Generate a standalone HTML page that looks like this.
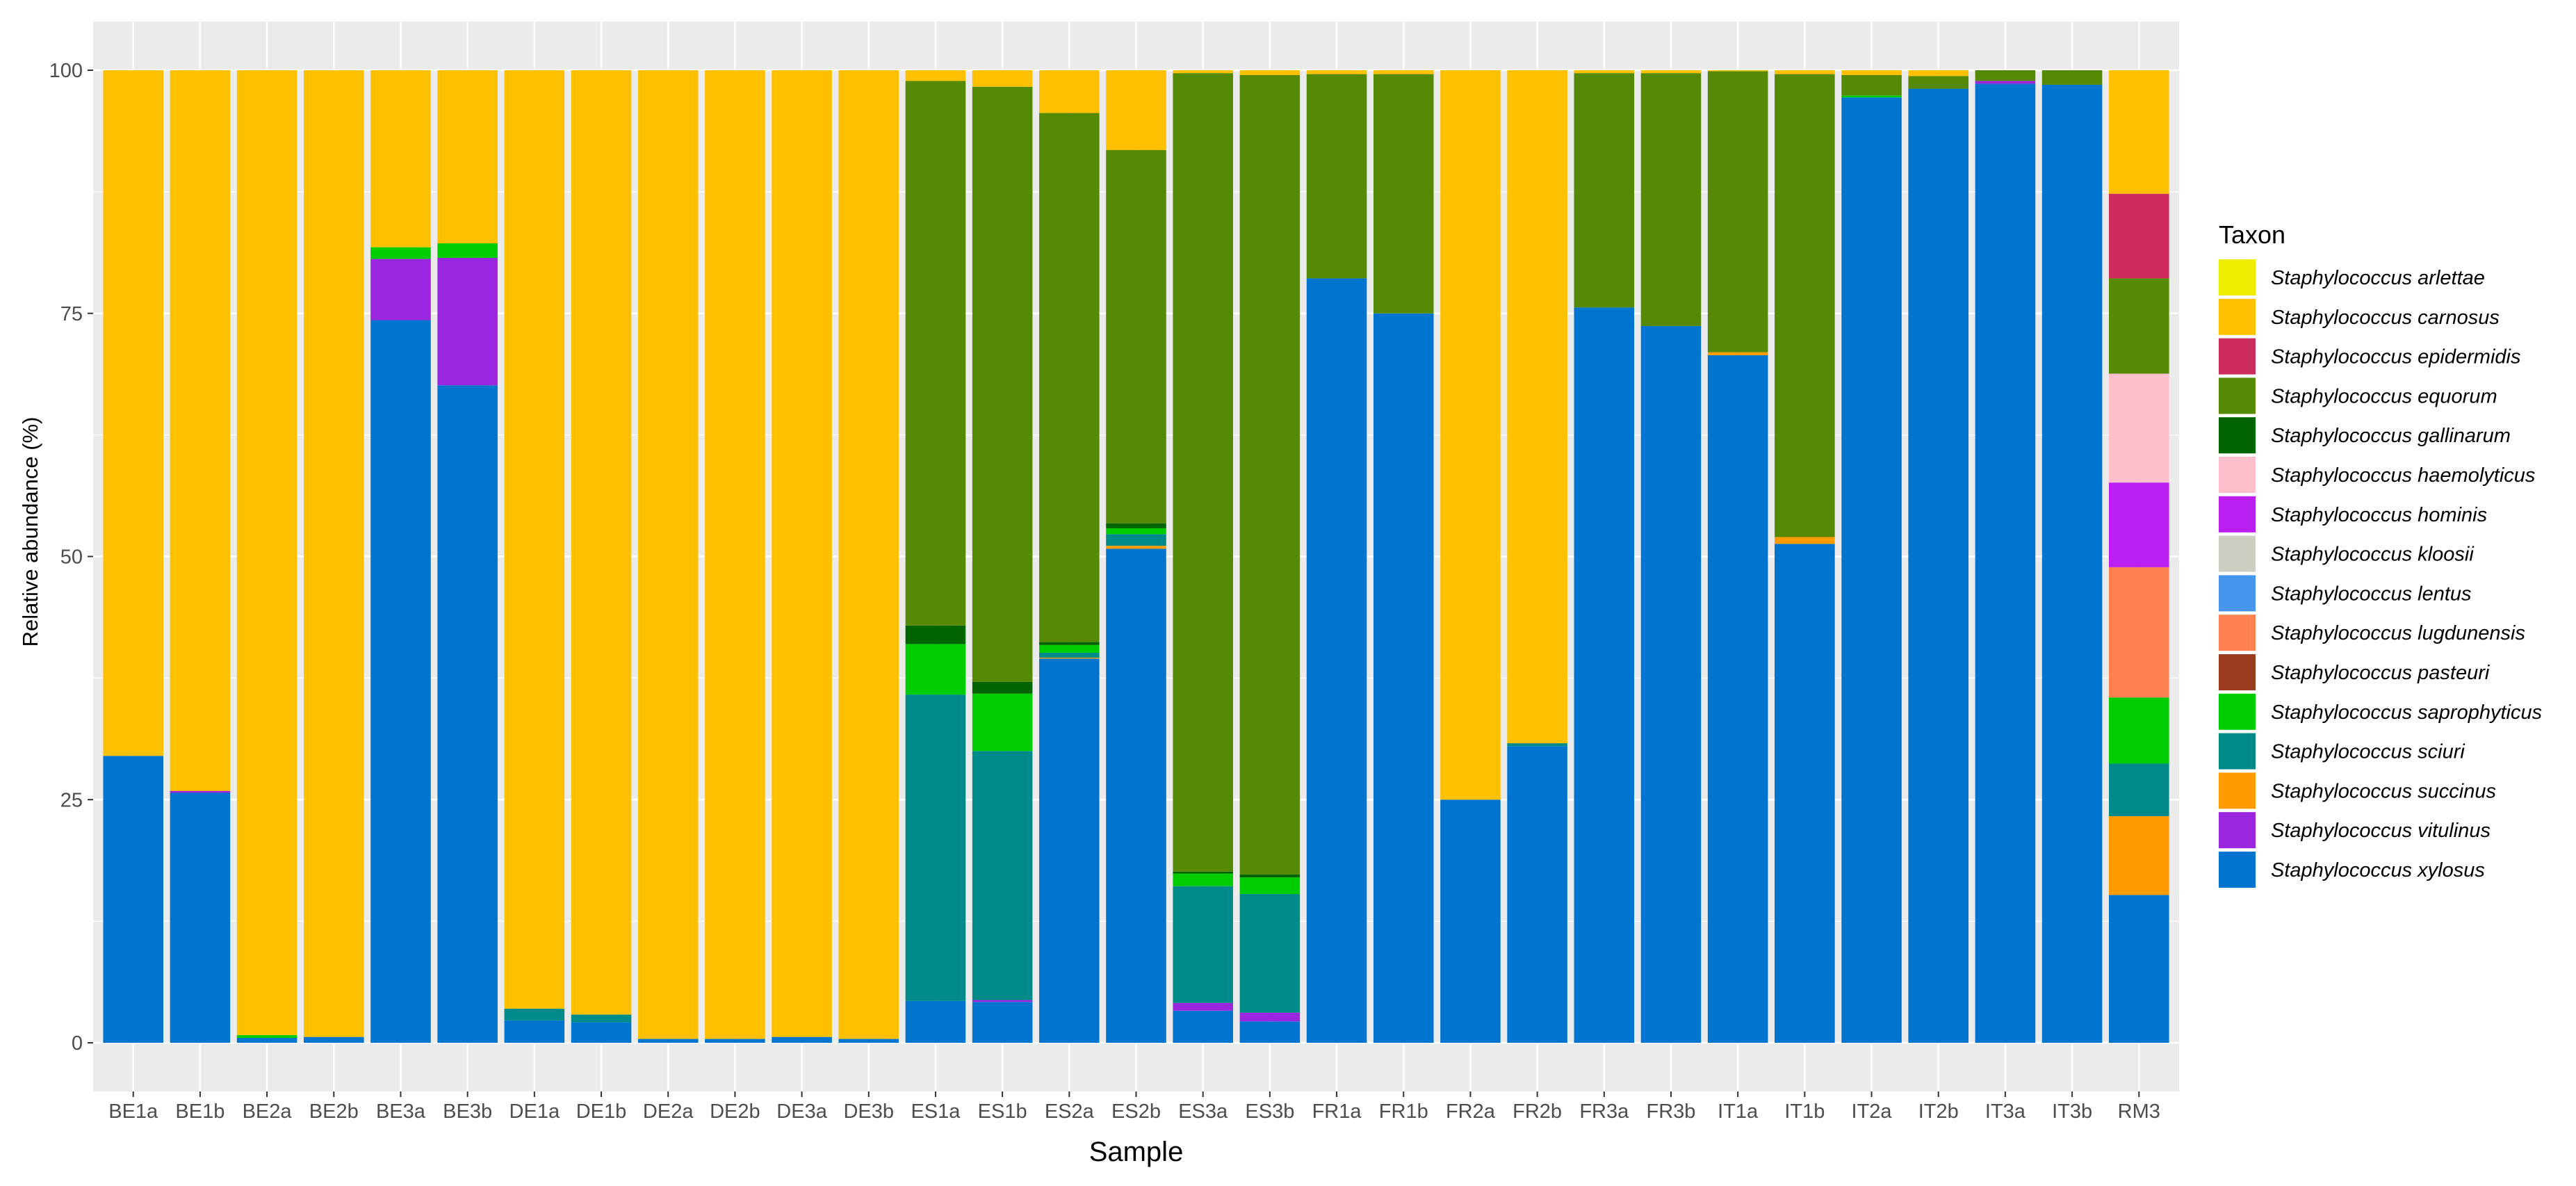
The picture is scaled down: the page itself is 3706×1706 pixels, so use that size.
<!DOCTYPE html>
<html><head><meta charset="utf-8"><style>
html,body{margin:0;padding:0;background:#fff;}
svg{display:block;}
text{font-family:"Liberation Sans",sans-serif;}
</style></head><body>
<svg id="chart" xmlns="http://www.w3.org/2000/svg" width="3706" height="1706" viewBox="0 0 3706 1706">
<rect x="0" y="0" width="3706" height="1706" fill="#fff"/>
<g id="panel"></g>
<g id="bars"></g>
<g id="axes"></g>
<g id="legend"></g>
</svg>
<script>
const samples = ["BE1a","BE1b","BE2a","BE2b","BE3a","BE3b","DE1a","DE1b","DE2a","DE2b","DE3a","DE3b","ES1a","ES1b","ES2a","ES2b","ES3a","ES3b","FR1a","FR1b","FR2a","FR2b","FR3a","FR3b","IT1a","IT1b","IT2a","IT2b","IT3a","IT3b","RM3"];
const taxa = ["Staphylococcus arlettae","Staphylococcus carnosus","Staphylococcus epidermidis","Staphylococcus equorum","Staphylococcus gallinarum","Staphylococcus haemolyticus","Staphylococcus hominis","Staphylococcus kloosii","Staphylococcus lentus","Staphylococcus lugdunensis","Staphylococcus pasteuri","Staphylococcus saprophyticus","Staphylococcus sciuri","Staphylococcus succinus","Staphylococcus vitulinus","Staphylococcus xylosus"];
const taxonColors = ["#EEEE00","#FFC000","#CC2C5E","#568A04","#006400","#FFC0CB","#BB1EF0","#CDCDC1","#4796EE","#FF8250","#9A3E1F","#00CD00","#008B8B","#FF9A00","#9B26E0","#0075D0"];
const yTicks = [0,25,50,75,100];
// values per taxon (percent), one per sample
const xylosus      = [29.5,25.7,0.5,0.6,74.3,67.6,2.3,2.1,0.4,0.4,0.6,0.4,4.3,4.2,39.5,50.8,3.3,2.2,78.6,75.0,25.0,30.5,75.6,73.7,70.7,51.3,97.2,98.1,98.6,98.5,15.2];
const vitulinus    = [0,0.2,0,0,6.3,13.1,0,0,0,0,0,0,0,0.2,0,0,0.8,0.9,0,0,0,0,0,0,0,0,0,0,0.3,0,0];
const succinus     = [0,0,0,0,0,0,0,0,0,0,0,0,0,0,0.1,0.3,0,0,0,0,0,0,0,0,0.3,0.7,0,0,0,0,8.1];
const sciuri       = [0,0,0,0,0,0,1.2,0.8,0,0,0,0,31.5,25.6,0.5,1.2,12.0,12.2,0,0,0,0.3,0,0,0,0,0,0,0,0,5.4];
const saprophyticus= [0,0,0.3,0,1.2,1.5,0,0,0,0,0,0,5.2,5.9,0.8,0.6,1.3,1.7,0,0,0,0,0,0,0,0,0.2,0,0,0,6.8];
const pasteuri     = [0,0,0,0,0,0,0,0,0,0,0,0,0,0,0,0,0,0,0,0,0,0,0,0,0,0,0,0,0,0,0];
const lugdunensis  = [0,0,0,0,0,0,0,0,0,0,0,0,0,0,0,0,0,0,0,0,0,0,0,0,0,0,0,0,0,0,13.4];
const lentus       = [0,0,0,0,0,0,0,0,0,0,0,0,0,0,0,0,0,0,0,0,0,0,0,0,0,0,0,0,0,0,0];
const kloosii      = [0,0,0,0,0,0,0,0,0,0,0,0,0,0,0,0,0,0,0,0,0,0,0,0,0,0,0,0,0,0,0];
const hominis      = [0,0,0,0,0,0,0,0,0,0,0,0,0,0,0,0,0,0,0,0,0,0,0,0,0,0,0,0,0,0,8.7];
const haemolyticus = [0,0,0,0,0,0,0,0,0,0,0,0,0,0,0,0,0,0,0,0,0,0,0,0,0,0,0,0,0,0,11.2];
const gallinarum   = [0,0,0,0,0,0,0,0,0,0,0,0,1.9,1.2,0.3,0.5,0.2,0.3,0,0,0,0,0,0,0,0,0,0,0,0,0];
const equorum      = [0,0,0,0,0,0,0,0,0,0,0,0,56.0,61.2,54.4,38.4,82.1,82.2,21.0,24.6,0,0,24.1,26.0,28.9,47.6,2.1,1.3,1.1,1.5,9.8];
const epidermidis  = [0,0,0,0,0,0,0,0,0,0,0,0,0,0,0,0,0,0,0,0,0,0,0,0,0,0,0,0,0,0,8.7];
const carnosus     = [70.5,74.1,99.2,99.4,18.2,17.8,96.5,97.1,99.6,99.6,99.4,99.6,1.1,1.7,4.4,8.2,0.3,0.5,0.4,0.4,75.0,69.2,0.3,0.3,0.1,0.4,0.5,0.6,0,0,12.7];
const arlettae     = [0,0,0,0,0,0,0,0,0,0,0,0,0,0,0,0,0,0,0,0,0,0,0,0,0,0,0,0,0,0,0];

const seriesTopDown = [arlettae,carnosus,epidermidis,equorum,gallinarum,haemolyticus,hominis,kloosii,lentus,lugdunensis,pasteuri,saprophyticus,sciuri,succinus,vitulinus,xylosus];

const NS="http://www.w3.org/2000/svg";
const PL=134, PR=3135, PT=31, PB=1570;
const Y0=1500, Y100=101;
const unit=(PR-PL)/(samples.length+0.2);
function xScale(i){return PL+unit*(0.6+i);}
function yScale(v){return Y0-(Y0-Y100)*v/100;}
function mk(tag,attrs,parent){const e=document.createElementNS(NS,tag);for(const k in attrs)e.setAttribute(k,attrs[k]);parent.appendChild(e);return e;}

const panel=document.getElementById('panel');
const bg=mk('rect',{x:PL,y:PT,width:PR-PL,height:PB-PT,fill:'#EBEBEB'},panel);


for(let k=0;k<yTicks.length-1;k++){
  const v=(yTicks[k]+yTicks[k+1])/2;
  const l=mk('line',{x1:PL,x2:PR,y1:yScale(v),y2:yScale(v),stroke:'#fff','stroke-width':1.2},panel);
  
  
}
yTicks.forEach(v=>{
  const l=mk('line',{x1:PL,x2:PR,y1:yScale(v),y2:yScale(v),stroke:'#fff','stroke-width':2.6},panel);
  
  
});
samples.forEach((s,i)=>{
  const l=mk('line',{x1:xScale(i),x2:xScale(i),y1:PT,y2:PB,stroke:'#fff','stroke-width':2.6},panel);
  
  
});

const barsG=document.getElementById('bars');
const bw=unit*0.9;
samples.forEach((s,i)=>{
  let cum=0;
  for(let t=seriesTopDown.length-1;t>=0;t--){
    const v=seriesTopDown[t][i];
    if(!v) continue;
    const yTop=yScale(cum+v), yBot=yScale(cum);
    const r=mk('rect',{x:xScale(i)-bw/2,y:yTop,width:bw,height:Math.max(yBot-yTop,0.5),fill:taxonColors[t]},barsG);
    
    
    cum+=v;
  }
});

const axes=document.getElementById('axes');
yTicks.forEach(v=>{
  const t=mk('line',{x1:PL-8,x2:PL,y1:yScale(v),y2:yScale(v),stroke:'#333','stroke-width':2},axes);
  
  
  const tx=mk('text',{x:PL-15,y:yScale(v)+10,'text-anchor':'end','font-size':29,fill:'#4D4D4D'},axes);
  tx.textContent=String(v);
  
  
});
samples.forEach((s,i)=>{
  const t=mk('line',{x1:xScale(i),x2:xScale(i),y1:PB,y2:PB+8,stroke:'#333','stroke-width':2},axes);
  
  
  const tx=mk('text',{x:xScale(i),y:1608,'text-anchor':'middle','font-size':29,fill:'#4D4D4D'},axes);
  tx.textContent=s;
  
  
});
const xt=mk('text',{x:(PL+PR)/2,y:1670,'text-anchor':'middle','font-size':40,fill:'#000'},axes);
xt.textContent='Sample';


const yt=mk('text',{x:0,y:0,'text-anchor':'middle','font-size':31,fill:'#000',transform:'translate(54,765) rotate(-90)'},axes);
yt.textContent='Relative abundance (%)';



const lg=document.getElementById('legend');
const lt=mk('text',{x:3192,y:350,'font-size':36,fill:'#000'},lg);
lt.textContent='Taxon';


taxa.forEach((name,i)=>{
  const y=373+i*56.8;
  const g=mk('g',{},lg);
  
  
  const r=mk('rect',{x:3192,y:y,width:53,height:52,fill:taxonColors[i]},g);
  
  
  const t=mk('text',{x:3267,y:y+36,'font-size':29,'font-style':'italic',fill:'#000'},g);
  t.textContent=name;
  
  
});
</script>
</body></html>
